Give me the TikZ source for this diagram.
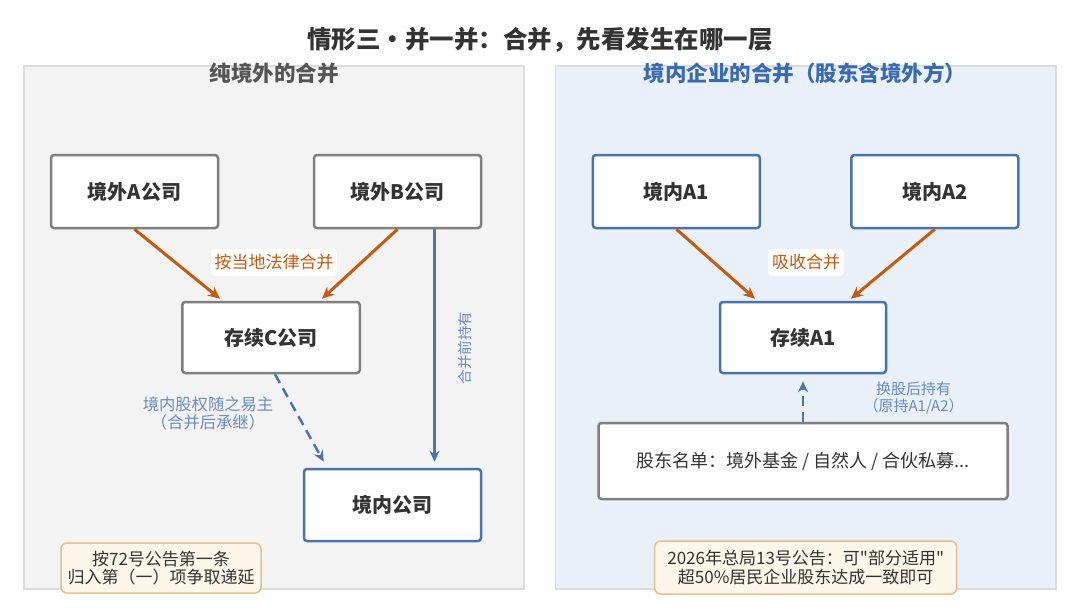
\documentclass[tikz,border=0pt]{standalone}
\usepackage{fontspec}
\setmainfont{Noto Sans CJK SC}[Ligatures=TeXOff]
\usetikzlibrary{arrows.meta,calc}
\definecolor{ttl}{HTML}{333333}
\definecolor{lgray}{HTML}{555555}
\definecolor{pblue}{HTML}{3A6BB0}
\definecolor{lpanel}{HTML}{F3F3F3}
\definecolor{rpanel}{HTML}{E9F0FA}
\definecolor{pborder}{HTML}{DCDCDC}
\definecolor{gborder}{HTML}{7F7F7F}
\definecolor{bborder}{HTML}{4A72AC}
\definecolor{orng}{HTML}{C55A11}
\definecolor{blab}{HTML}{6B8CC0}
\definecolor{blin}{HTML}{4F74AA}
\definecolor{notefill}{HTML}{FDF6EA}
\definecolor{noteedge}{HTML}{E6C08A}
\tikzset{
  panelbox/.style={draw=pborder, line width=1.5pt},
  gbox/.style={draw=gborder, fill=white, line width=2.5pt, rounded corners=3pt, inner sep=0pt,
    text=ttl, font=\fontsize{20pt}{24pt}\selectfont\bfseries},
  bbox/.style={gbox, draw=bborder},
  notebox/.style={draw=noteedge, fill=notefill, line width=1.5pt, rounded corners=6pt, inner sep=0pt,
    text=ttl, align=center, font=\fontsize{17pt}{18.5pt}\selectfont},
  olabel/.style={fill=white, rounded corners=4pt, text=orng, inner sep=0pt,
    minimum height=27pt, font=\fontsize{17pt}{20pt}\selectfont},
  blabel/.style={text=blab, align=center, inner sep=0pt},
  oarrow/.style={draw=orng, line width=3pt, -{Stealth[length=12pt,width=11pt]}},
  barrow/.style={draw=blin, line width=2.5pt, -{Stealth[length=11pt,width=10pt]}},
  bdash/.style={barrow, dash pattern=on 10pt off 6pt},
}
\begin{document}
\begin{tikzpicture}[x=1pt,y=-1pt]
\useasboundingbox (0,0) rectangle (1080,613);
\fill[white] (0,0) rectangle (1080,613);

% panels
\draw[panelbox, fill=lpanel] (24,66) rectangle (524,589);
\draw[panelbox, fill=rpanel] (555.5,66) rectangle (1056,589);

% titles
\node[text=ttl, font=\fontsize{24.5pt}{28pt}\selectfont\bfseries] (title) at (540,40) {情形三・并一并：合并，先看发生在哪一层};
\node[text=lgray, font=\fontsize{21.5pt}{25pt}\selectfont\bfseries] (ltitle) at (274,73) {纯境外的合并};
\node[text=pblue, font=\fontsize{21.5pt}{25pt}\selectfont\bfseries] (rtitle) at (805,73) {境内企业的合并（股东含境外方）};

% left nodes
\node[gbox, minimum width=167pt, minimum height=73pt] (A) at (134.5,191.5) {境外A公司};
\node[gbox, minimum width=167pt, minimum height=73pt] (B) at (397.5,191.5) {境外B公司};
\node[gbox, minimum width=177.5pt, minimum height=71pt] (C) at (271,337.5) {存续C公司};
\node[bbox, minimum width=177pt, minimum height=72pt] (D) at (392.5,505) {境内公司};

\draw[oarrow] (A.south) -- ([xshift=-51pt,yshift=2pt]C.north);
\draw[oarrow] (B.south) -- ([xshift=51pt,yshift=2pt]C.north);
\node[olabel, minimum width=126pt] (lm) at (274,262.5) {按当地法律合并};

\draw[bdash] ([xshift=4pt]C.south) -- ([xshift=21pt,yshift=6pt]D.north west);
\draw[barrow, shorten >=6pt] ([xshift=37pt]B.south) -- ([xshift=37pt]B.south |- D.north);
\node[blabel, font=\fontsize{16.3pt}{18pt}\selectfont] (lsh) at (208,413) {境内股权随之易主\\（合并后承继）};
\node[blabel, rotate=90, font=\fontsize{14.5pt}{17pt}\selectfont] (lpre) at (465,348) {合并前持有};

\node[notebox, minimum width=200pt, minimum height=50pt] (LN) at (161,568) {按72号公告第一条\\归入第（一）项争取递延};

% right nodes
\node[bbox, minimum width=167pt, minimum height=73pt] (A1) at (676.4,191.5) {境内A1};
\node[bbox, minimum width=167pt, minimum height=73pt] (A2) at (934.8,191.5) {境内A2};
\node[bbox, minimum width=166pt, minimum height=71pt] (E) at (803,337.5) {存续A1};
\node[gbox, minimum width=409pt, minimum height=76pt, font=\fontsize{18pt}{20pt}\selectfont] (F) at (803,461) {股东名单：境外基金 / 自然人 / 合伙私募...};

\draw[oarrow] (A1.south) -- ([xshift=-48pt,yshift=2pt]E.north);
\draw[oarrow] (A2.south) -- ([xshift=48pt,yshift=2pt]E.north);
\node[olabel, minimum width=76pt] (rm) at (806,262.5) {吸收合并};

\draw[bdash, shorten >=7pt] (F.north) -- (E.south);
\node[blabel, font=\fontsize{15pt}{16.5pt}\selectfont] (rsh) at (913.6,398) {换股后持有\\（原持A1/A2）};

\node[notebox, minimum width=302pt, minimum height=53pt] (RN) at (805.7,567.5) {2026年总局13号公告：可"部分适用"\\超50\%居民企业股东达成一致即可};
\end{tikzpicture}
\end{document}
